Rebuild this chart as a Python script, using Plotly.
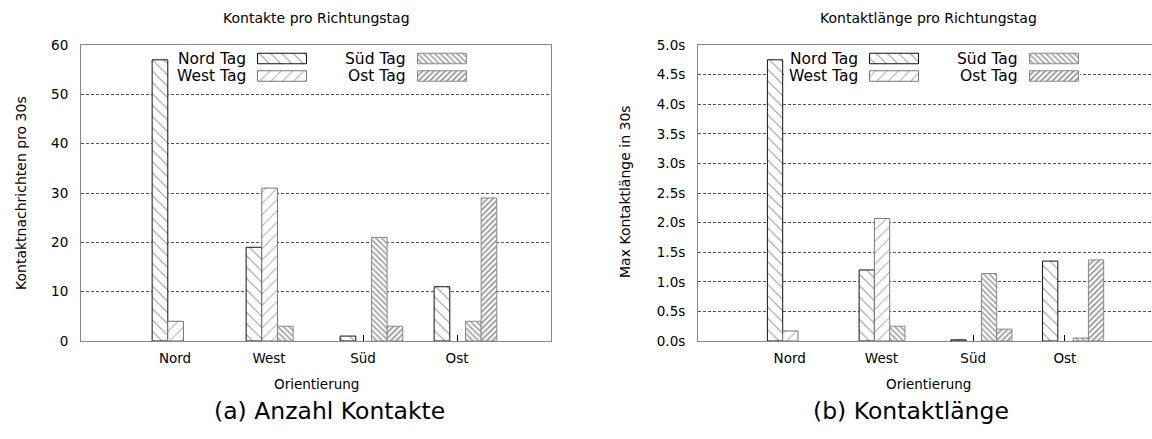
import plotly.graph_objects as go

# ---------------------------------------------------------------- data
orientations = ["Nord", "West", "Süd", "Ost"]
tags = ["Nord Tag", "West Tag", "Süd Tag", "Ost Tag"]

# contact messages per 30 s, one list per tag, indexed by orientation
kontakte_nord_tag = [57, 19, 1, 11]
kontakte_west_tag = [4, 31, 0, 0]
kontakte_sued_tag = [0, 3, 21, 4]
kontakte_ost_tag = [0, 0, 3, 29]

# maximum contact length within 30 s (seconds)
laenge_nord_tag = [4.75, 1.2, 0.02, 1.35]
laenge_west_tag = [0.17, 2.07, 0, 0]
laenge_sued_tag = [0, 0.25, 1.14, 0.05]
laenge_ost_tag = [0, 0, 0.2, 1.37]

ticks_kontakte = [0, 10, 20, 30, 40, 50, 60]
ticks_laenge = [0.0, 0.5, 1.0, 1.5, 2.0, 2.5, 3.0, 3.5, 4.0, 4.5, 5.0]
ticktext_laenge = [f"{v:.1f}s" for v in ticks_laenge]

# ---------------------------------------------------------------- styling
W, H = 1152, 439
FONT = "DejaVu Sans"
styles = [
    dict(shape="\\", size=8, fg="#222222", line="#111111", solidity=0.12),
    dict(shape="/", size=8, fg="#555555", line="#777777", solidity=0.12),
    dict(shape="\\", size=4, fg="#4a4a4a", line="#888888", solidity=0.45),
    dict(shape="/", size=4, fg="#2e2e2e", line="#888888", solidity=0.45),
]

# plot areas in pixels: (left, right, top, bottom)
area_a = (81, 551, 45, 341)
area_b = (698, 1152, 45, 341)


def dom_x(area):
    return [area[0] / W, area[1] / W]


def dom_y(area):
    return [1 - area[3] / H, 1 - area[2] / H]


def marker(st, vals=None):
    # empty (zero) bars get no outline so nothing is drawn for them
    width = 1 if vals is None else [0 if v == 0 else 1 for v in vals]
    return dict(
        color="white",
        line=dict(color=st["line"], width=width),
        pattern=dict(shape=st["shape"], size=st["size"], fgcolor=st["fg"],
                     bgcolor="white", solidity=st["solidity"], fillmode="overlay"),
    )


fig = go.Figure()
xpos = list(range(len(orientations)))
tick_shift = -0.09

series_a = [kontakte_nord_tag, kontakte_west_tag, kontakte_sued_tag, kontakte_ost_tag]
series_b = [laenge_nord_tag, laenge_west_tag, laenge_sued_tag, laenge_ost_tag]

for name, vals, st in zip(tags, series_a, styles):
    fig.add_trace(go.Bar(x=xpos, y=vals, name=name, marker=marker(st, vals),
                         xaxis="x", yaxis="y", showlegend=False))
for name, vals, st in zip(tags, series_b, styles):
    fig.add_trace(go.Bar(x=xpos, y=vals, name=name, marker=marker(st, vals),
                         xaxis="x2", yaxis="y2", showlegend=False))

# ---------------------------------------------------------------- keys
# key layout in pixels: text right edge -> sample box, two columns
KEY_ROWS = [58.5, 76.0]
KEY_SAMPLE_W = 49
KEY_SAMPLE_H = 10.5
KEY_GAP = 10
KEY_COL_STEP = 160


def hbar(area, x0, x1, yc, h, mk, xa, ya):
    left, right, top, bottom = area
    pw, ph = right - left, bottom - top
    fig.add_trace(go.Bar(
        orientation="h", base=[(x0 - left) / pw], x=[(x1 - x0) / pw],
        y=[(bottom - yc) / ph], width=[h / ph], offset=-h / ph / 2,
        marker=mk, xaxis=xa, yaxis=ya, showlegend=False, hoverinfo="skip"))


def add_key(area, text_right0, xa, ya, xref, yref, box):
    left, right, top, bottom = area
    pw, ph = right - left, bottom - top
    # white key background hides the grid behind it
    hbar(area, box[0], box[1], (box[2] + box[3]) / 2, box[3] - box[2],
         dict(color="white", line=dict(width=0)), xa, ya)
    for i, (name, st) in enumerate(zip(tags, styles)):
        col, row = i // 2, i % 2
        tr = text_right0 + col * KEY_COL_STEP
        yc = KEY_ROWS[row]
        fig.add_annotation(text=name, xref=f"{xref} domain", yref=f"{yref} domain",
                           x=(tr - left) / pw, y=(bottom - yc) / ph,
                           xanchor="right", yanchor="middle", showarrow=False,
                           font=dict(family=FONT, size=15.5, color="black"))
        x0 = tr + KEY_GAP
        hbar(area, x0, x0 + KEY_SAMPLE_W, yc, KEY_SAMPLE_H, marker(st), xa, ya)


add_key(area_a, 247.5, "x3", "y3", "x", "y", (170, 468, 50, 86))
add_key(area_b, 859.5, "x4", "y4", "x2", "y2", (784, 1080, 50, 86))

# ---------------------------------------------------------------- axes
tickfont = dict(family=FONT, size=13.5, color="black")
common_x = dict(
    tickmode="array", tickvals=[p + tick_shift for p in xpos], ticktext=orientations,
    ticks="inside", ticklen=6, tickcolor="black", tickwidth=1,
    showline=True, linecolor="#888888", linewidth=1, mirror=True,
    showgrid=False, zeroline=False, tickfont=tickfont, layer="below traces",
    ticklabelstandoff=5, automargin=False,
)
common_y = dict(
    showline=True, linecolor="#888888", linewidth=1,
    showgrid=True, gridcolor="#555555", gridwidth=1, griddash="3px,2px",
    zeroline=False, ticks="", tickfont=tickfont, layer="below traces",
    ticklabelstandoff=9, automargin=False,
)
hidden = dict(range=[0, 1], visible=False, automargin=False)

fig.update_layout(
    xaxis=dict(domain=dom_x(area_a), range=[-1.09, 3.91], anchor="y", **common_x),
    yaxis=dict(domain=dom_y(area_a), range=[0, 60], anchor="x", mirror=True,
               tickvals=ticks_kontakte, **common_y),
    xaxis2=dict(domain=dom_x(area_b), range=[-1.09, 3.86], anchor="y2", **common_x),
    yaxis2=dict(domain=dom_y(area_b), range=[0, 5.0], anchor="x2", mirror=False,
                tickvals=ticks_laenge, ticktext=ticktext_laenge, **common_y),
    xaxis3=dict(overlaying="x", **hidden),
    yaxis3=dict(overlaying="y", **hidden),
    xaxis4=dict(overlaying="x2", **hidden),
    yaxis4=dict(overlaying="y2", **hidden),
    barmode="group", bargap=1 / 3, bargroupgap=0,
    width=W, height=H, autosize=False,
    margin=dict(l=0, r=0, t=0, b=0, pad=0),
    paper_bgcolor="white", plot_bgcolor="white",
    showlegend=False,
)

# ---------------------------------------------------------------- texts
texts = [
    ("Kontakte pro Richtungstag", 316, 17.5, 14, 0),
    ("Kontaktlänge pro Richtungstag", 928, 17.5, 14, 0),
    ("Orientierung", 316, 384, 13.5, 0),
    ("Orientierung", 928, 384, 13.5, 0),
    ("Kontaktnachrichten pro 30s", 21, 193, 14, -90),
    ("Max Kontaktlänge in 30s", 625, 192, 14, -90),
    ("(a) Anzahl Kontakte", 329, 411, 23.5, 0),
    ("(b) Kontaktlänge", 911, 411, 23.5, 0),
]
for txt, px, py, size, ang in texts:
    fig.add_annotation(text=txt, xref="paper", yref="paper", x=px / W, y=1 - py / H,
                       xanchor="center", yanchor="middle", showarrow=False,
                       textangle=ang, font=dict(family=FONT, size=size, color="black"))

fig.write_html("out.html")
